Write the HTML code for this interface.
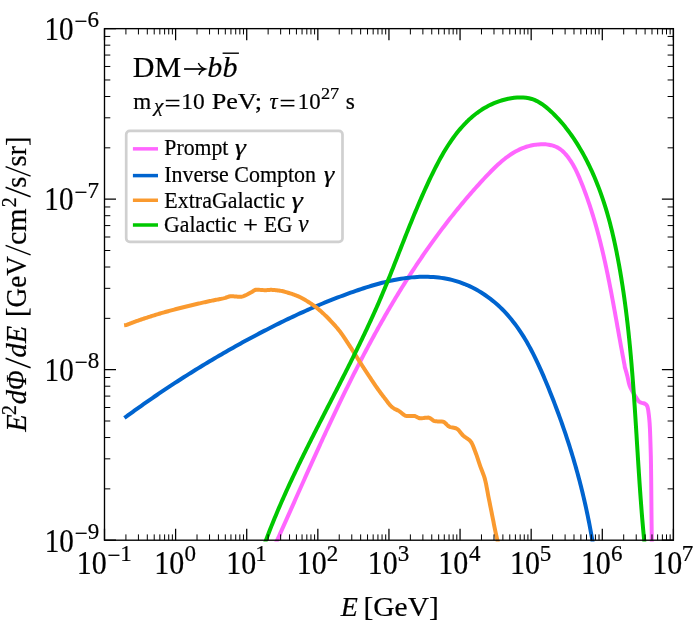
<!DOCTYPE html>
<html><head><meta charset="utf-8"><title>DM decay spectrum</title>
<style>html,body{margin:0;padding:0;background:#fff;}svg{display:block;will-change:transform;}text{font-family:"Liberation Serif", serif;fill:#000;stroke:#000;stroke-width:0.2px;}</style>
</head><body>
<svg width="695" height="625" viewBox="0 0 695 625">
<rect x="0" y="0" width="695" height="625" fill="#ffffff"/>
<defs><clipPath id="ax"><rect x="104.50" y="28.65" width="568.90" height="512.95"/></clipPath></defs>
<g clip-path="url(#ax)" fill="none" stroke-width="4.00" stroke-linejoin="round" stroke-linecap="square">
<path d="M275.10 544.94 L276.11 542.69 L277.12 540.44 L278.13 538.19 L279.13 535.94 L280.14 533.68 L281.15 531.43 L282.15 529.17 L283.16 526.92 L284.16 524.66 L285.17 522.40 L286.17 520.15 L287.18 517.89 L288.18 515.63 L289.19 513.37 L290.19 511.11 L291.20 508.85 L292.20 506.59 L293.21 504.33 L294.22 502.07 L295.22 499.81 L296.23 497.54 L297.24 495.28 L298.24 493.02 L299.25 490.76 L300.26 488.49 L301.27 486.23 L302.28 483.97 L303.29 481.71 L304.30 479.45 L305.32 477.18 L306.33 474.92 L307.34 472.66 L308.36 470.40 L309.38 468.14 L310.40 465.88 L311.41 463.61 L312.44 461.35 L313.46 459.10 L314.48 456.84 L315.51 454.58 L316.53 452.32 L317.56 450.06 L318.59 447.80 L319.62 445.55 L320.65 443.29 L321.69 441.04 L322.73 438.78 L323.76 436.53 L324.81 434.28 L325.85 432.03 L326.89 429.78 L327.94 427.53 L328.99 425.28 L330.04 423.03 L331.09 420.79 L332.15 418.54 L333.21 416.30 L334.27 414.06 L335.33 411.82 L336.40 409.58 L337.47 407.34 L338.54 405.10 L339.61 402.87 L340.69 400.63 L341.77 398.40 L342.85 396.17 L343.94 393.94 L345.03 391.71 L346.12 389.49 L347.21 387.26 L348.31 385.04 L349.41 382.82 L350.52 380.60 L351.63 378.39 L352.74 376.17 L353.85 373.96 L354.97 371.75 L356.09 369.54 L357.22 367.33 L358.35 365.13 L359.48 362.93 L360.62 360.73 L361.76 358.53 L362.91 356.34 L364.05 354.14 L365.21 351.95 L366.36 349.76 L367.53 347.58 L368.69 345.39 L369.86 343.21 L371.04 341.04 L372.21 338.86 L373.40 336.69 L374.58 334.52 L375.78 332.35 L376.97 330.19 L378.17 328.02 L379.38 325.87 L380.59 323.71 L381.81 321.56 L383.03 319.41 L384.25 317.26 L385.48 315.12 L386.72 312.98 L387.96 310.84 L389.20 308.70 L390.45 306.57 L391.71 304.44 L392.97 302.32 L394.24 300.20 L395.51 298.08 L396.79 295.97 L398.07 293.86 L399.36 291.75 L400.66 289.65 L401.96 287.55 L403.26 285.45 L404.58 283.36 L405.89 281.27 L407.22 279.18 L408.55 277.10 L409.88 275.02 L411.23 272.95 L412.57 270.88 L413.93 268.81 L415.29 266.75 L416.66 264.69 L418.03 262.64 L419.41 260.59 L420.80 258.54 L422.19 256.50 L423.59 254.47 L425.00 252.43 L426.41 250.40 L427.83 248.38 L429.26 246.36 L430.69 244.35 L432.13 242.33 L433.58 240.33 L435.03 238.33 L436.49 236.33 L437.96 234.34 L439.44 232.35 L440.92 230.37 L442.41 228.39 L443.91 226.42 L445.42 224.45 L446.93 222.48 L448.45 220.52 L449.98 218.57 L451.52 216.62 L453.06 214.68 L454.61 212.74 L456.17 210.81 L457.74 208.88 L459.32 206.95 L460.90 205.04 L462.49 203.12 L464.09 201.22 L465.70 199.32 L467.32 197.42 L468.94 195.53 L470.57 193.64 L472.21 191.76 L473.86 189.89 L475.52 188.02 L477.19 186.16 L478.86 184.30 L480.55 182.45 L482.24 180.60 L483.94 178.76 L485.65 176.93 L487.38 175.10 L489.11 173.29 L490.85 171.49 L492.61 169.72 L494.39 167.97 L496.18 166.24 L498.00 164.56 L499.83 162.90 L501.69 161.30 L503.57 159.73 L505.48 158.22 L507.42 156.76 L509.39 155.36 L511.39 154.02 L513.42 152.75 L515.49 151.55 L517.59 150.43 L519.73 149.38 L521.91 148.42 L524.13 147.54 L526.40 146.76 L528.70 146.08 L531.06 145.49 L533.46 145.01 L535.91 144.64 L538.42 144.38 L540.97 144.24 L543.55 144.23 L546.13 144.37 L548.69 144.68 L551.20 145.17 L553.64 145.85 L555.98 146.75 L558.19 147.87 L560.27 149.23 L562.21 150.79 L564.03 152.51 L565.74 154.36 L567.34 156.30 L568.85 158.29 L570.28 160.33 L571.63 162.42 L572.91 164.54 L574.12 166.70 L575.28 168.89 L576.38 171.11 L577.44 173.35 L578.45 175.61 L579.43 177.89 L580.39 180.18 L581.32 182.48 L582.24 184.78 L583.14 187.09 L584.03 189.40 L584.90 191.72 L585.76 194.04 L586.60 196.37 L587.42 198.70 L588.24 201.04 L589.03 203.38 L589.82 205.72 L590.59 208.07 L591.35 210.43 L592.09 212.78 L592.82 215.14 L593.54 217.51 L594.25 219.88 L594.95 222.25 L595.63 224.63 L596.30 227.00 L596.97 229.39 L597.62 231.77 L598.26 234.16 L598.89 236.55 L599.51 238.95 L600.12 241.35 L600.72 243.75 L601.31 246.15 L601.89 248.55 L602.47 250.96 L603.03 253.37 L603.59 255.79 L604.14 258.20 L604.68 260.62 L605.22 263.04 L605.74 265.46 L606.26 267.88 L606.78 270.30 L607.29 272.73 L607.79 275.16 L608.28 277.59 L608.77 280.02 L609.26 282.45 L609.74 284.88 L610.22 287.32 L610.69 289.75 L611.16 292.19 L611.62 294.62 L612.08 297.06 L612.54 299.50 L612.99 301.94 L613.44 304.38 L613.89 306.82 L614.33 309.25 L614.78 311.69 L615.22 314.13 L615.66 316.57 L616.10 319.01 L616.54 321.45 L616.98 323.89 L617.41 326.33 L617.85 328.77 L618.29 331.20 L618.73 333.64 L619.17 336.08 L619.60 338.51 L620.05 340.94 L620.49 343.38 L620.93 345.81 L621.38 348.24 L621.83 350.67 L622.28 353.09 L622.73 355.52 L623.19 357.94 L623.65 360.37 L624.11 362.79 L624.58 365.21 L624.76 366.81 L625.21 368.33 L625.65 369.85 L626.08 371.37 L626.51 372.90 L626.92 374.43 L627.32 375.96 L627.68 377.50 L628.01 379.06 L628.34 380.62 L628.68 382.17 L629.06 383.70 L629.50 385.20 L630.04 386.67 L630.69 388.10 L631.42 389.52 L632.19 390.92 L632.98 392.30 L633.75 393.68 L634.56 395.05 L635.39 396.40 L636.26 397.72 L637.16 399.03 L638.09 400.42 L639.11 401.64 L640.32 402.40 L641.87 402.87 L643.54 403.25 L645.03 403.74 L646.20 404.62 L647.15 406.00 L647.65 407.44 L648.00 408.96 L648.26 410.55 L648.48 412.16 L648.68 413.74 L648.87 415.31 L649.05 416.88 L649.21 418.45 L649.36 420.03 L649.49 421.61 L649.62 423.19 L649.72 424.77 L649.81 426.35 L649.90 427.93 L649.97 429.51 L650.04 431.09 L650.10 432.67 L650.16 434.25 L650.22 435.83 L650.27 437.41 L650.32 438.99 L650.37 440.58 L650.42 442.16 L650.47 443.74 L650.52 445.32 L650.56 446.90 L650.61 448.49 L650.66 450.07 L650.70 451.65 L650.75 453.23 L650.79 454.81 L650.83 456.40 L650.86 457.98 L650.89 459.56 L650.92 461.14 L650.95 462.72 L650.97 464.31 L650.99 465.89 L651.02 467.47 L651.04 469.05 L651.06 470.63 L651.08 472.22 L651.10 473.80 L651.12 475.38 L651.14 476.96 L651.16 478.54 L651.18 480.13 L651.19 481.71 L651.21 483.29 L651.23 484.87 L651.24 486.46 L651.26 488.04 L651.27 489.62 L651.29 491.20 L651.30 492.79 L651.31 494.37 L651.33 495.95 L651.34 497.53 L651.35 499.11 L651.37 500.70 L651.38 502.28 L651.40 503.86 L651.41 505.44 L651.42 507.03 L651.44 508.61 L651.45 510.19 L651.46 511.77 L651.48 513.36 L651.49 514.94 L651.51 516.52 L651.52 518.10 L651.54 519.69 L651.56 521.27 L651.57 522.85 L651.59 524.43 L651.61 526.01 L651.63 527.60 L651.65 529.18 L651.66 530.76 L651.69 532.34 L651.71 533.93 L651.73 535.51 L651.75 537.09 L651.78 538.67 L651.80 540.25 L651.83 541.84 L651.86 543.42 L651.90 545.00" stroke="#ff66ff"/>
<path d="M126.02 416.79 L128.18 415.20 L130.36 413.62 L132.54 412.05 L134.72 410.47 L136.91 408.91 L139.11 407.34 L141.31 405.78 L143.52 404.23 L145.73 402.68 L147.95 401.13 L150.17 399.59 L152.40 398.05 L154.64 396.52 L156.88 394.99 L159.12 393.47 L161.37 391.95 L163.62 390.44 L165.88 388.93 L168.15 387.43 L170.42 385.93 L172.69 384.44 L174.97 382.95 L177.25 381.47 L179.54 379.99 L181.83 378.52 L184.12 377.06 L186.42 375.60 L188.73 374.14 L191.03 372.69 L193.34 371.25 L195.66 369.81 L197.98 368.38 L200.30 366.95 L202.63 365.53 L204.96 364.12 L207.29 362.71 L209.63 361.31 L211.97 359.92 L214.32 358.53 L216.66 357.14 L219.01 355.77 L221.37 354.40 L223.72 353.03 L226.08 351.68 L228.44 350.33 L230.81 348.98 L233.18 347.64 L235.55 346.31 L237.92 344.99 L240.30 343.67 L242.67 342.36 L245.05 341.06 L247.44 339.77 L249.82 338.48 L252.21 337.20 L254.60 335.92 L256.99 334.65 L259.38 333.39 L261.77 332.14 L264.17 330.90 L266.57 329.66 L268.97 328.43 L271.37 327.21 L273.77 326.00 L276.18 324.79 L278.59 323.59 L281.00 322.40 L283.42 321.22 L285.84 320.05 L288.26 318.88 L290.69 317.72 L293.12 316.58 L295.56 315.44 L298.00 314.31 L300.44 313.18 L302.89 312.07 L305.34 310.97 L307.80 309.87 L310.27 308.78 L312.74 307.71 L315.21 306.64 L317.70 305.58 L320.18 304.53 L322.68 303.49 L325.18 302.47 L327.69 301.45 L330.21 300.44 L332.73 299.44 L335.26 298.45 L337.80 297.47 L340.35 296.50 L342.90 295.54 L345.46 294.59 L348.04 293.65 L350.62 292.73 L353.21 291.81 L355.80 290.90 L358.41 290.01 L361.03 289.13 L363.65 288.26 L366.28 287.42 L368.92 286.59 L371.57 285.78 L374.22 285.00 L376.88 284.24 L379.54 283.50 L382.21 282.80 L384.89 282.12 L387.56 281.48 L390.25 280.87 L392.93 280.29 L395.62 279.75 L398.31 279.25 L401.00 278.79 L403.70 278.37 L406.39 277.99 L409.09 277.66 L411.79 277.38 L414.48 277.15 L417.18 276.96 L419.87 276.83 L422.57 276.76 L425.26 276.74 L427.95 276.78 L430.64 276.88 L433.32 277.03 L436.00 277.25 L438.67 277.53 L441.32 277.88 L443.97 278.29 L446.60 278.76 L449.22 279.31 L451.82 279.92 L454.41 280.60 L456.97 281.34 L459.51 282.16 L462.03 283.05 L464.53 284.01 L467.00 285.04 L469.44 286.13 L471.86 287.29 L474.25 288.50 L476.61 289.78 L478.94 291.12 L481.23 292.52 L483.50 293.97 L485.73 295.48 L487.93 297.04 L490.09 298.65 L492.21 300.31 L494.30 302.02 L496.35 303.77 L498.36 305.57 L500.32 307.41 L502.25 309.30 L504.13 311.22 L505.97 313.18 L507.77 315.18 L509.53 317.21 L511.25 319.28 L512.93 321.38 L514.58 323.51 L516.19 325.68 L517.77 327.87 L519.31 330.10 L520.82 332.35 L522.30 334.62 L523.74 336.93 L525.16 339.25 L526.55 341.60 L527.91 343.97 L529.24 346.36 L530.55 348.77 L531.84 351.19 L533.10 353.64 L534.33 356.09 L535.55 358.56 L536.74 361.05 L537.92 363.54 L539.08 366.05 L540.21 368.57 L541.34 371.09 L542.44 373.62 L543.53 376.16 L544.61 378.70 L545.68 381.24 L546.73 383.78 L547.78 386.33 L548.81 388.87 L549.83 391.42 L550.85 393.96 L551.85 396.50 L552.85 399.05 L553.83 401.59 L554.81 404.13 L555.78 406.68 L556.73 409.22 L557.68 411.77 L558.62 414.31 L559.55 416.86 L560.47 419.40 L561.38 421.95 L562.28 424.50 L563.16 427.05 L564.04 429.60 L564.92 432.15 L565.78 434.71 L566.63 437.26 L567.47 439.82 L568.30 442.38 L569.12 444.94 L569.93 447.51 L570.74 450.08 L571.53 452.65 L572.31 455.22 L573.09 457.79 L573.85 460.37 L574.60 462.95 L575.35 465.54 L576.08 468.12 L576.81 470.71 L577.52 473.31 L578.23 475.90 L578.92 478.51 L579.61 481.11 L580.29 483.72 L580.95 486.34 L581.61 488.95 L582.25 491.58 L582.89 494.20 L583.52 496.84 L584.14 499.47 L584.74 502.11 L585.34 504.76 L585.93 507.41 L586.51 510.07 L587.07 512.73 L587.63 515.40 L588.18 518.07 L588.72 520.75 L589.25 523.44 L589.77 526.13 L590.28 528.83 L590.77 531.53 L591.26 534.24 L591.74 536.96 L592.21 539.69 L592.67 542.42 L593.12 545.16" stroke="#0064cf"/>
<path d="M126.10 324.98 L126.50 324.93 L127.48 324.55 L128.45 324.17 L129.43 323.79 L130.41 323.41 L131.38 323.04 L132.36 322.67 L133.34 322.31 L134.33 321.94 L135.31 321.59 L136.29 321.23 L137.28 320.88 L138.26 320.53 L139.25 320.19 L140.24 319.85 L141.23 319.51 L142.22 319.18 L143.21 318.84 L144.20 318.51 L145.20 318.18 L146.19 317.85 L147.19 317.53 L148.18 317.20 L149.18 316.88 L150.18 316.56 L151.17 316.25 L152.17 315.93 L153.17 315.62 L154.17 315.31 L155.17 315.00 L156.17 314.69 L157.17 314.39 L158.18 314.09 L159.18 313.79 L160.18 313.49 L161.19 313.20 L162.19 312.91 L163.20 312.62 L164.20 312.33 L165.21 312.04 L166.21 311.76 L167.22 311.48 L168.23 311.20 L169.24 310.92 L170.25 310.65 L171.26 310.38 L172.27 310.11 L173.28 309.84 L174.29 309.57 L175.31 309.30 L176.32 309.04 L177.33 308.78 L178.35 308.52 L179.36 308.26 L180.37 308.00 L181.39 307.74 L182.40 307.49 L183.42 307.23 L184.44 306.98 L185.45 306.73 L186.47 306.48 L187.48 306.23 L188.50 305.98 L189.52 305.74 L190.53 305.49 L191.55 305.24 L192.57 305.00 L193.59 304.76 L194.60 304.52 L195.62 304.28 L196.64 304.04 L197.66 303.80 L198.68 303.56 L199.70 303.33 L200.72 303.10 L201.74 302.86 L202.76 302.63 L203.78 302.41 L204.80 302.18 L205.83 301.95 L206.85 301.73 L207.87 301.51 L208.89 301.29 L209.92 301.07 L210.94 300.85 L211.96 300.64 L212.99 300.43 L214.02 300.23 L215.05 300.03 L216.08 299.84 L217.10 299.65 L218.13 299.45 L219.16 299.26 L220.19 299.06 L221.21 298.85 L222.24 298.63 L223.26 298.41 L224.27 298.16 L225.29 297.84 L226.29 297.49 L227.30 297.13 L228.30 296.80 L229.31 296.52 L230.33 296.33 L231.35 296.25 L232.38 296.27 L233.43 296.32 L234.48 296.39 L235.53 296.47 L236.59 296.56 L237.64 296.64 L238.69 296.71 L239.73 296.76 L240.75 296.79 L241.77 296.70 L242.78 296.41 L243.77 296.02 L244.76 295.59 L245.72 295.19 L246.67 294.76 L247.60 294.29 L248.52 293.79 L249.44 293.27 L250.36 292.77 L251.29 292.28 L252.21 291.73 L253.13 291.11 L254.05 290.51 L254.98 290.01 L255.94 289.73 L256.92 289.69 L257.93 289.73 L258.96 289.79 L260.01 289.87 L261.07 289.96 L262.13 290.04 L263.20 290.11 L264.26 290.15 L265.31 290.16 L266.35 290.13 L267.40 290.06 L268.44 289.98 L269.49 289.91 L270.53 289.86 L271.57 289.85 L272.62 289.89 L273.66 289.95 L274.71 290.04 L275.76 290.15 L276.80 290.28 L277.84 290.42 L278.88 290.57 L279.91 290.72 L280.94 290.88 L281.96 291.06 L282.98 291.29 L284.00 291.54 L285.01 291.81 L286.02 292.10 L287.03 292.41 L288.03 292.71 L289.03 293.02 L290.03 293.33 L291.03 293.64 L292.03 293.97 L293.02 294.31 L294.01 294.66 L295.00 295.02 L295.97 295.39 L296.94 295.78 L297.90 296.19 L298.85 296.61 L299.80 297.06 L300.73 297.52 L301.66 298.01 L302.59 298.51 L303.50 299.02 L304.41 299.54 L305.32 300.07 L306.22 300.60 L307.12 301.14 L308.01 301.68 L308.90 302.24 L309.78 302.81 L310.66 303.38 L311.53 303.97 L312.39 304.56 L313.25 305.17 L314.10 305.78 L314.93 306.40 L315.76 307.03 L316.58 307.67 L317.40 308.33 L318.20 309.00 L319.00 309.68 L319.79 310.36 L320.58 311.06 L321.36 311.76 L322.14 312.46 L322.91 313.17 L323.68 313.88 L324.44 314.60 L325.19 315.32 L325.95 316.04 L326.70 316.78 L327.44 317.52 L328.18 318.26 L328.91 319.01 L329.64 319.76 L330.36 320.52 L331.08 321.28 L331.79 322.04 L332.50 322.81 L333.21 323.58 L333.91 324.36 L334.61 325.14 L335.31 325.93 L336.00 326.71 L336.68 327.51 L337.36 328.31 L338.03 329.12 L338.69 329.93 L339.34 330.74 L339.98 331.57 L340.60 332.40 L341.22 333.24 L341.84 334.08 L342.44 334.94 L343.04 335.80 L343.63 336.66 L344.22 337.53 L344.80 338.40 L345.38 339.27 L345.95 340.15 L346.53 341.03 L347.10 341.91 L347.67 342.78 L348.25 343.66 L348.82 344.53 L349.39 345.41 L349.96 346.29 L350.52 347.17 L351.08 348.05 L351.64 348.94 L352.20 349.82 L352.76 350.71 L353.31 351.59 L353.87 352.48 L354.43 353.37 L354.99 354.25 L355.54 355.14 L356.10 356.02 L356.66 356.91 L357.22 357.79 L357.78 358.67 L358.34 359.56 L358.90 360.44 L359.46 361.33 L360.02 362.21 L360.59 363.09 L361.15 363.97 L361.71 364.86 L362.28 365.73 L362.85 366.61 L363.42 367.49 L363.99 368.37 L364.56 369.25 L365.13 370.12 L365.70 371.00 L366.28 371.87 L366.85 372.75 L367.43 373.62 L368.00 374.50 L368.58 375.37 L369.16 376.24 L369.74 377.11 L370.32 377.98 L370.90 378.85 L371.47 379.73 L372.05 380.60 L372.63 381.47 L373.22 382.34 L373.80 383.21 L374.39 384.08 L374.97 384.94 L375.56 385.81 L376.16 386.67 L376.76 387.52 L377.36 388.38 L377.97 389.23 L378.58 390.08 L379.19 390.93 L379.81 391.77 L380.43 392.62 L381.05 393.46 L381.68 394.30 L382.31 395.13 L382.94 395.96 L383.58 396.79 L384.23 397.62 L384.87 398.44 L385.52 399.27 L386.16 400.11 L386.79 400.97 L387.43 401.84 L388.07 402.69 L388.72 403.54 L389.38 404.36 L390.06 405.15 L390.77 405.90 L391.50 406.60 L392.27 407.25 L393.08 407.84 L393.95 408.39 L394.86 408.90 L395.80 409.39 L396.75 409.88 L397.71 410.36 L398.64 410.86 L399.55 411.39 L400.43 412.02 L401.29 412.73 L402.15 413.48 L403.01 414.21 L403.87 414.87 L404.75 415.41 L405.66 415.77 L406.60 415.90 L407.59 415.90 L408.62 415.90 L409.68 415.90 L410.76 415.90 L411.83 415.90 L412.89 415.90 L413.92 415.90 L414.92 416.08 L415.90 416.48 L416.87 417.00 L417.84 417.53 L418.81 417.99 L419.80 418.26 L420.81 418.29 L421.85 418.23 L422.90 418.12 L423.97 417.99 L425.03 417.85 L426.08 417.73 L427.12 417.64 L428.12 417.60 L429.09 417.74 L430.02 418.14 L430.94 418.73 L431.84 419.41 L432.75 420.10 L433.67 420.70 L434.61 421.13 L435.58 421.31 L436.61 421.37 L437.67 421.41 L438.76 421.44 L439.85 421.47 L440.91 421.50 L441.92 421.55 L442.87 421.64 L443.76 421.95 L444.60 422.50 L445.41 423.22 L446.21 424.03 L447.01 424.87 L447.82 425.66 L448.66 426.34 L449.54 426.84 L450.50 427.15 L451.54 427.38 L452.61 427.58 L453.69 427.76 L454.74 427.97 L455.71 428.23 L456.58 428.57 L457.39 429.08 L458.15 429.72 L458.87 430.46 L459.57 431.28 L460.25 432.15 L460.94 433.04 L461.63 433.91 L462.34 434.74 L463.09 435.50 L463.89 436.18 L464.74 436.82 L465.64 437.44 L466.55 438.05 L467.45 438.65 L468.32 439.27 L469.15 439.91 L469.90 440.58 L470.57 441.30 L471.13 442.08 L471.65 442.92 L472.13 443.82 L472.57 444.76 L472.99 445.74 L473.39 446.74 L473.78 447.75 L474.16 448.77 L474.53 449.78 L474.91 450.77 L475.29 451.74 L475.66 452.72 L476.02 453.70 L476.37 454.68 L476.72 455.67 L477.06 456.66 L477.39 457.65 L477.73 458.64 L478.06 459.64 L478.38 460.63 L478.71 461.63 L479.04 462.62 L479.38 463.62 L479.71 464.61 L480.05 465.60 L480.40 466.59 L480.76 467.57 L481.13 468.55 L481.51 469.53 L481.89 470.51 L482.28 471.49 L482.66 472.47 L483.03 473.45 L483.40 474.43 L483.75 475.41 L484.09 476.40 L484.41 477.39 L484.71 478.39 L484.98 479.39 L485.23 480.40 L485.47 481.41 L485.71 482.43 L485.93 483.45 L486.14 484.47 L486.35 485.49 L486.55 486.52 L486.75 487.55 L486.94 488.58 L487.13 489.62 L487.32 490.65 L487.51 491.68 L487.69 492.71 L487.88 493.75 L488.07 494.78 L488.27 495.81 L488.47 496.84 L488.67 497.86 L488.88 498.89 L489.09 499.91 L489.29 500.94 L489.50 501.97 L489.70 502.99 L489.91 504.02 L490.12 505.04 L490.32 506.07 L490.53 507.10 L490.74 508.12 L490.94 509.15 L491.15 510.17 L491.35 511.20 L491.56 512.22 L491.77 513.25 L491.97 514.28 L492.18 515.30 L492.39 516.33 L492.59 517.35 L492.79 518.38 L492.99 519.41 L493.20 520.44 L493.40 521.46 L493.60 522.49 L493.80 523.52 L494.00 524.54 L494.20 525.57 L494.40 526.60 L494.60 527.62 L494.81 528.65 L495.02 529.68 L495.23 530.70 L495.44 531.72 L495.66 532.75 L495.88 533.77 L496.11 534.79 L496.35 535.81 L496.60 536.83 L496.84 537.84 L497.09 538.86 L497.33 539.88 L497.55 540.90 L497.77 541.92 L497.99 542.95 L498.20 543.97 L498.40 545.00" stroke="#fa9a2f"/>
<path d="M264.22 545.04 L265.21 542.33 L266.21 539.63 L267.23 536.92 L268.25 534.23 L269.29 531.53 L270.35 528.83 L271.41 526.14 L272.49 523.46 L273.58 520.77 L274.68 518.09 L275.79 515.41 L276.91 512.73 L278.04 510.06 L279.18 507.39 L280.34 504.72 L281.50 502.06 L282.67 499.39 L283.85 496.73 L285.04 494.07 L286.24 491.42 L287.44 488.76 L288.66 486.11 L289.88 483.46 L291.11 480.81 L292.35 478.17 L293.60 475.52 L294.85 472.88 L296.11 470.24 L297.37 467.60 L298.64 464.96 L299.92 462.33 L301.20 459.69 L302.49 457.06 L303.79 454.43 L305.08 451.80 L306.39 449.17 L307.69 446.55 L309.01 443.92 L310.32 441.30 L311.64 438.68 L312.96 436.05 L314.29 433.43 L315.61 430.81 L316.94 428.19 L318.28 425.58 L319.61 422.96 L320.95 420.34 L322.29 417.73 L323.63 415.11 L324.97 412.50 L326.31 409.88 L327.65 407.27 L328.99 404.65 L330.33 402.04 L331.67 399.43 L333.02 396.82 L334.36 394.20 L335.70 391.59 L337.03 388.98 L338.37 386.37 L339.70 383.75 L341.04 381.14 L342.37 378.53 L343.69 375.92 L345.02 373.30 L346.34 370.69 L347.66 368.08 L348.97 365.46 L350.29 362.85 L351.59 360.23 L352.90 357.62 L354.19 355.00 L355.49 352.38 L356.77 349.76 L358.06 347.14 L359.33 344.53 L360.60 341.90 L361.87 339.28 L363.13 336.66 L364.38 334.04 L365.62 331.41 L366.86 328.78 L368.09 326.16 L369.31 323.53 L370.53 320.90 L371.73 318.26 L372.93 315.63 L374.12 312.99 L375.30 310.36 L376.47 307.72 L377.63 305.08 L378.78 302.44 L379.92 299.79 L381.06 297.15 L382.18 294.50 L383.29 291.85 L384.39 289.20 L385.49 286.54 L386.58 283.89 L387.66 281.23 L388.74 278.57 L389.81 275.91 L390.88 273.25 L391.94 270.58 L393.00 267.92 L394.05 265.25 L395.10 262.58 L396.15 259.91 L397.20 257.24 L398.25 254.57 L399.30 251.89 L400.35 249.22 L401.40 246.54 L402.45 243.86 L403.51 241.18 L404.57 238.50 L405.63 235.81 L406.69 233.13 L407.76 230.44 L408.84 227.76 L409.92 225.07 L411.00 222.38 L412.10 219.69 L413.20 217.00 L414.31 214.30 L415.43 211.61 L416.56 208.92 L417.70 206.22 L418.85 203.52 L420.01 200.82 L421.18 198.13 L422.37 195.43 L423.57 192.72 L424.78 190.02 L426.00 187.32 L427.25 184.62 L428.50 181.91 L429.77 179.21 L431.06 176.50 L432.37 173.80 L433.70 171.11 L435.05 168.42 L436.42 165.74 L437.81 163.08 L439.23 160.43 L440.67 157.80 L442.14 155.19 L443.64 152.60 L445.17 150.04 L446.73 147.51 L448.32 145.01 L449.95 142.54 L451.61 140.11 L453.31 137.72 L455.04 135.37 L456.81 133.07 L458.63 130.81 L460.48 128.60 L462.38 126.45 L464.32 124.35 L466.30 122.30 L468.33 120.32 L470.41 118.39 L472.54 116.54 L474.72 114.75 L476.94 113.03 L479.23 111.38 L481.56 109.81 L483.95 108.32 L486.40 106.90 L488.90 105.57 L491.47 104.33 L494.09 103.17 L496.78 102.11 L499.53 101.14 L502.34 100.26 L505.22 99.49 L508.16 98.81 L511.15 98.25 L514.18 97.82 L517.21 97.55 L520.22 97.43 L523.21 97.50 L526.14 97.77 L528.99 98.26 L531.74 98.98 L534.39 99.93 L536.94 101.10 L539.41 102.45 L541.79 103.96 L544.09 105.62 L546.34 107.39 L548.53 109.25 L550.67 111.18 L552.77 113.17 L554.84 115.21 L556.86 117.29 L558.84 119.42 L560.79 121.60 L562.69 123.82 L564.56 126.08 L566.39 128.38 L568.18 130.71 L569.93 133.09 L571.65 135.49 L573.33 137.92 L574.97 140.38 L576.58 142.87 L578.15 145.39 L579.68 147.92 L581.18 150.48 L582.64 153.05 L584.07 155.65 L585.47 158.25 L586.83 160.87 L588.15 163.50 L589.45 166.14 L590.71 168.79 L591.94 171.45 L593.14 174.12 L594.31 176.80 L595.44 179.49 L596.55 182.18 L597.63 184.89 L598.69 187.61 L599.71 190.33 L600.71 193.07 L601.68 195.81 L602.62 198.56 L603.55 201.31 L604.44 204.07 L605.32 206.85 L606.16 209.62 L606.99 212.41 L607.80 215.20 L608.58 217.99 L609.34 220.79 L610.09 223.60 L610.81 226.42 L611.52 229.23 L612.20 232.06 L612.87 234.88 L613.53 237.72 L614.16 240.55 L614.78 243.39 L615.39 246.23 L615.98 249.08 L616.56 251.93 L617.12 254.78 L617.68 257.64 L618.21 260.50 L618.74 263.36 L619.26 266.22 L619.77 269.08 L620.26 271.95 L620.75 274.82 L621.22 277.69 L621.69 280.56 L622.14 283.44 L622.59 286.31 L623.02 289.19 L623.45 292.07 L623.87 294.95 L624.27 297.83 L624.67 300.72 L625.06 303.60 L625.44 306.49 L625.82 309.38 L626.18 312.27 L626.54 315.16 L626.89 318.05 L627.23 320.95 L627.56 323.84 L627.89 326.74 L628.21 329.64 L628.52 332.54 L628.83 335.44 L629.13 338.34 L629.42 341.25 L629.70 344.15 L629.99 347.06 L630.26 349.96 L630.53 352.87 L630.79 355.78 L631.05 358.69 L631.30 361.59 L631.55 364.51 L631.79 367.42 L632.03 370.33 L632.27 373.24 L632.50 376.15 L632.72 379.07 L632.94 381.98 L633.16 384.90 L633.38 387.81 L633.59 390.73 L633.79 393.64 L634.00 396.56 L634.20 399.48 L634.40 402.39 L634.60 405.31 L634.79 408.23 L634.98 411.15 L635.18 414.07 L635.36 416.98 L635.55 419.90 L635.74 422.82 L635.92 425.74 L636.11 428.66 L636.29 431.57 L636.47 434.49 L636.65 437.41 L636.83 440.33 L637.01 443.24 L637.19 446.16 L637.38 449.08 L637.56 451.99 L637.74 454.91 L637.92 457.82 L638.11 460.74 L638.29 463.65 L638.48 466.57 L638.67 469.48 L638.85 472.39 L639.05 475.30 L639.24 478.21 L639.43 481.12 L639.63 484.03 L639.83 486.94 L640.04 489.85 L640.24 492.76 L640.45 495.66 L640.66 498.57 L640.88 501.47 L641.10 504.37 L641.32 507.27 L641.55 510.18 L641.78 513.07 L642.01 515.97 L642.25 518.87 L642.50 521.76 L642.75 524.66 L643.00 527.55 L643.26 530.44 L643.53 533.33 L643.80 536.22 L644.07 539.11 L644.36 541.99 L644.65 544.88" stroke="#00c800"/>
</g>
<path d="M104.50 540.20 v-11.50 M104.50 28.65 v11.50 M175.61 540.20 v-11.50 M175.61 28.65 v11.50 M246.72 540.20 v-11.50 M246.72 28.65 v11.50 M317.84 540.20 v-11.50 M317.84 28.65 v11.50 M388.95 540.20 v-11.50 M388.95 28.65 v11.50 M460.06 540.20 v-11.50 M460.06 28.65 v11.50 M531.17 540.20 v-11.50 M531.17 28.65 v11.50 M602.29 540.20 v-11.50 M602.29 28.65 v11.50 M673.40 540.20 v-11.50 M673.40 28.65 v11.50 M104.50 540.20 h11.50 M673.40 540.20 h-11.50 M104.50 369.68 h11.50 M673.40 369.68 h-11.50 M104.50 199.17 h11.50 M673.40 199.17 h-11.50 M104.50 28.65 h11.50 M673.40 28.65 h-11.50" stroke="#000" stroke-width="1.25" fill="none"/>
<path d="M125.91 540.20 v-5.80 M125.91 28.65 v5.80 M138.43 540.20 v-5.80 M138.43 28.65 v5.80 M147.31 540.20 v-5.80 M147.31 28.65 v5.80 M154.21 540.20 v-5.80 M154.21 28.65 v5.80 M159.84 540.20 v-5.80 M159.84 28.65 v5.80 M164.60 540.20 v-5.80 M164.60 28.65 v5.80 M168.72 540.20 v-5.80 M168.72 28.65 v5.80 M172.36 540.20 v-5.80 M172.36 28.65 v5.80 M197.02 540.20 v-5.80 M197.02 28.65 v5.80 M209.54 540.20 v-5.80 M209.54 28.65 v5.80 M218.43 540.20 v-5.80 M218.43 28.65 v5.80 M225.32 540.20 v-5.80 M225.32 28.65 v5.80 M230.95 540.20 v-5.80 M230.95 28.65 v5.80 M235.71 540.20 v-5.80 M235.71 28.65 v5.80 M239.83 540.20 v-5.80 M239.83 28.65 v5.80 M243.47 540.20 v-5.80 M243.47 28.65 v5.80 M268.13 540.20 v-5.80 M268.13 28.65 v5.80 M280.65 540.20 v-5.80 M280.65 28.65 v5.80 M289.54 540.20 v-5.80 M289.54 28.65 v5.80 M296.43 540.20 v-5.80 M296.43 28.65 v5.80 M302.06 540.20 v-5.80 M302.06 28.65 v5.80 M306.82 540.20 v-5.80 M306.82 28.65 v5.80 M310.95 540.20 v-5.80 M310.95 28.65 v5.80 M314.58 540.20 v-5.80 M314.58 28.65 v5.80 M339.24 540.20 v-5.80 M339.24 28.65 v5.80 M351.77 540.20 v-5.80 M351.77 28.65 v5.80 M360.65 540.20 v-5.80 M360.65 28.65 v5.80 M367.54 540.20 v-5.80 M367.54 28.65 v5.80 M373.17 540.20 v-5.80 M373.17 28.65 v5.80 M377.93 540.20 v-5.80 M377.93 28.65 v5.80 M382.06 540.20 v-5.80 M382.06 28.65 v5.80 M385.70 540.20 v-5.80 M385.70 28.65 v5.80 M410.36 540.20 v-5.80 M410.36 28.65 v5.80 M422.88 540.20 v-5.80 M422.88 28.65 v5.80 M431.76 540.20 v-5.80 M431.76 28.65 v5.80 M438.66 540.20 v-5.80 M438.66 28.65 v5.80 M444.29 540.20 v-5.80 M444.29 28.65 v5.80 M449.05 540.20 v-5.80 M449.05 28.65 v5.80 M453.17 540.20 v-5.80 M453.17 28.65 v5.80 M456.81 540.20 v-5.80 M456.81 28.65 v5.80 M481.47 540.20 v-5.80 M481.47 28.65 v5.80 M493.99 540.20 v-5.80 M493.99 28.65 v5.80 M502.88 540.20 v-5.80 M502.88 28.65 v5.80 M509.77 540.20 v-5.80 M509.77 28.65 v5.80 M515.40 540.20 v-5.80 M515.40 28.65 v5.80 M520.16 540.20 v-5.80 M520.16 28.65 v5.80 M524.28 540.20 v-5.80 M524.28 28.65 v5.80 M527.92 540.20 v-5.80 M527.92 28.65 v5.80 M552.58 540.20 v-5.80 M552.58 28.65 v5.80 M565.10 540.20 v-5.80 M565.10 28.65 v5.80 M573.99 540.20 v-5.80 M573.99 28.65 v5.80 M580.88 540.20 v-5.80 M580.88 28.65 v5.80 M586.51 540.20 v-5.80 M586.51 28.65 v5.80 M591.27 540.20 v-5.80 M591.27 28.65 v5.80 M595.40 540.20 v-5.80 M595.40 28.65 v5.80 M599.03 540.20 v-5.80 M599.03 28.65 v5.80 M623.69 540.20 v-5.80 M623.69 28.65 v5.80 M636.22 540.20 v-5.80 M636.22 28.65 v5.80 M645.10 540.20 v-5.80 M645.10 28.65 v5.80 M651.99 540.20 v-5.80 M651.99 28.65 v5.80 M657.62 540.20 v-5.80 M657.62 28.65 v5.80 M662.38 540.20 v-5.80 M662.38 28.65 v5.80 M666.51 540.20 v-5.80 M666.51 28.65 v5.80 M670.15 540.20 v-5.80 M670.15 28.65 v5.80 M104.50 488.87 h5.80 M673.40 488.87 h-5.80 M104.50 458.84 h5.80 M673.40 458.84 h-5.80 M104.50 437.54 h5.80 M673.40 437.54 h-5.80 M104.50 421.01 h5.80 M673.40 421.01 h-5.80 M104.50 407.51 h5.80 M673.40 407.51 h-5.80 M104.50 396.10 h5.80 M673.40 396.10 h-5.80 M104.50 386.21 h5.80 M673.40 386.21 h-5.80 M104.50 377.49 h5.80 M673.40 377.49 h-5.80 M104.50 318.35 h5.80 M673.40 318.35 h-5.80 M104.50 288.33 h5.80 M673.40 288.33 h-5.80 M104.50 267.02 h5.80 M673.40 267.02 h-5.80 M104.50 250.50 h5.80 M673.40 250.50 h-5.80 M104.50 237.00 h5.80 M673.40 237.00 h-5.80 M104.50 225.58 h5.80 M673.40 225.58 h-5.80 M104.50 215.69 h5.80 M673.40 215.69 h-5.80 M104.50 206.97 h5.80 M673.40 206.97 h-5.80 M104.50 147.84 h5.80 M673.40 147.84 h-5.80 M104.50 117.81 h5.80 M673.40 117.81 h-5.80 M104.50 96.51 h5.80 M673.40 96.51 h-5.80 M104.50 79.98 h5.80 M673.40 79.98 h-5.80 M104.50 66.48 h5.80 M673.40 66.48 h-5.80 M104.50 55.06 h5.80 M673.40 55.06 h-5.80 M104.50 45.17 h5.80 M673.40 45.17 h-5.80 M104.50 36.45 h5.80 M673.40 36.45 h-5.80" stroke="#000" stroke-width="1.00" fill="none"/>
<rect x="104.50" y="28.65" width="568.90" height="511.55" fill="none" stroke="#000" stroke-width="1.35"/>
<text x="76.69" y="573.60" font-size="33.00" textLength="29.98" lengthAdjust="spacingAndGlyphs" xml:space="preserve">10</text>
<text x="107.38" y="563.30" font-size="23.00" xml:space="preserve">−</text>
<text x="120.35" y="561.30" font-size="23.00" xml:space="preserve">1</text>
<text x="154.25" y="573.60" font-size="33.00" textLength="29.98" lengthAdjust="spacingAndGlyphs" xml:space="preserve">10</text>
<text x="184.51" y="561.30" font-size="23.00" xml:space="preserve">0</text>
<text x="226.19" y="573.60" font-size="33.00" textLength="29.98" lengthAdjust="spacingAndGlyphs" xml:space="preserve">10</text>
<text x="255.30" y="561.30" font-size="23.00" xml:space="preserve">1</text>
<text x="296.74" y="573.60" font-size="33.00" textLength="29.98" lengthAdjust="spacingAndGlyphs" xml:space="preserve">10</text>
<text x="326.87" y="561.30" font-size="23.00" xml:space="preserve">2</text>
<text x="367.71" y="573.60" font-size="33.00" textLength="29.98" lengthAdjust="spacingAndGlyphs" xml:space="preserve">10</text>
<text x="397.75" y="561.30" font-size="23.00" xml:space="preserve">3</text>
<text x="438.23" y="573.60" font-size="33.00" textLength="29.98" lengthAdjust="spacingAndGlyphs" xml:space="preserve">10</text>
<text x="468.92" y="561.30" font-size="23.00" xml:space="preserve">4</text>
<text x="510.06" y="573.60" font-size="33.00" textLength="29.98" lengthAdjust="spacingAndGlyphs" xml:space="preserve">10</text>
<text x="539.86" y="561.30" font-size="23.00" xml:space="preserve">5</text>
<text x="580.89" y="573.60" font-size="33.00" textLength="29.98" lengthAdjust="spacingAndGlyphs" xml:space="preserve">10</text>
<text x="611.04" y="561.30" font-size="23.00" xml:space="preserve">6</text>
<text x="652.25" y="573.60" font-size="33.00" textLength="29.98" lengthAdjust="spacingAndGlyphs" xml:space="preserve">10</text>
<text x="681.87" y="561.30" font-size="23.00" xml:space="preserve">7</text>
<text x="74.87" y="540.60" font-size="23.00" xml:space="preserve">−</text>
<text x="87.84" y="538.60" font-size="23.00" xml:space="preserve">9</text>
<text x="44.65" y="551.50" font-size="33.00" textLength="29.18" lengthAdjust="spacingAndGlyphs" xml:space="preserve">10</text>
<text x="74.80" y="370.08" font-size="23.00" xml:space="preserve">−</text>
<text x="87.78" y="368.08" font-size="23.00" xml:space="preserve">8</text>
<text x="44.59" y="380.98" font-size="33.00" textLength="29.18" lengthAdjust="spacingAndGlyphs" xml:space="preserve">10</text>
<text x="74.59" y="199.57" font-size="23.00" xml:space="preserve">−</text>
<text x="87.56" y="197.57" font-size="23.00" xml:space="preserve">7</text>
<text x="44.37" y="210.47" font-size="33.00" textLength="29.18" lengthAdjust="spacingAndGlyphs" xml:space="preserve">10</text>
<text x="74.61" y="29.05" font-size="23.00" xml:space="preserve">−</text>
<text x="87.59" y="27.05" font-size="23.00" xml:space="preserve">6</text>
<text x="44.40" y="39.95" font-size="33.00" textLength="29.18" lengthAdjust="spacingAndGlyphs" xml:space="preserve">10</text>
<text x="340.63" y="615.50" font-size="28.00" font-style="italic" xml:space="preserve">E</text>
<text x="363.41" y="615.50" font-size="28.00" textLength="75.38" lengthAdjust="spacingAndGlyphs" xml:space="preserve">[GeV]</text>
<g transform="translate(26.2 432.4) rotate(-90)">
<text x="0.73" y="0.00" font-size="28.50" font-style="italic" xml:space="preserve">E</text>
<text x="17.52" y="-10.40" font-size="19.95" xml:space="preserve">2</text>
<text x="28.14" y="0.00" font-size="28.50" font-style="italic" xml:space="preserve">d</text>
<text x="42.43" y="0.00" font-size="28.50" font-style="italic" textLength="19.53" lengthAdjust="spacingAndGlyphs" xml:space="preserve">Φ</text>
<text x="74.94" y="0.00" font-size="28.50" font-style="italic" xml:space="preserve">dE</text>
<text x="115.48" y="0.00" font-size="28.50" xml:space="preserve">[</text>
<text x="124.99" y="0.00" font-size="28.50" textLength="51.32" lengthAdjust="spacingAndGlyphs" xml:space="preserve">GeV</text>
<text x="187.46" y="0.00" font-size="28.50" textLength="36.61" lengthAdjust="spacingAndGlyphs" xml:space="preserve">cm</text>
<text x="225.22" y="-10.40" font-size="19.95" xml:space="preserve">2</text>
<text x="244.63" y="0.00" font-size="28.50" xml:space="preserve">s</text>
<text x="265.83" y="0.00" font-size="28.50" xml:space="preserve">sr</text>
<text x="286.47" y="0.00" font-size="28.50" xml:space="preserve">]</text>
<path d="M64.65 4.4 L74.15 -20.6 M177.50 4.4 L187.00 -20.6 M235.60 4.4 L245.10 -20.6 M256.30 4.4 L265.80 -20.6" stroke="#000" stroke-width="1.55" fill="none"/>
</g>
<text x="132.84" y="77.00" font-size="30.00" textLength="48.34" lengthAdjust="spacingAndGlyphs" xml:space="preserve">DM</text>
<path d="M184.1 69.0 H204.2" stroke="#000" stroke-width="1.7" fill="none"/>
<path d="M198.4 63.0 C199.6 66.0 202.0 68.0 205.3 69.0 C202.0 70.0 199.8 72.0 198.9 75.0" stroke="#000" stroke-width="1.5" fill="none" stroke-linejoin="miter"/>
<text x="207.19" y="76.90" font-size="30.00" font-style="italic" xml:space="preserve">b</text>
<text x="222.39" y="76.90" font-size="30.00" font-style="italic" xml:space="preserve">b</text>
<path d="M222.6 53.2 H238.9" stroke="#000" stroke-width="1.4" fill="none"/>
<text x="133.32" y="108.70" font-size="23.80" textLength="17.94" lengthAdjust="spacingAndGlyphs" xml:space="preserve">m</text>
<text x="154.00" y="112.10" font-size="19.04" font-style="italic" textLength="9.36" lengthAdjust="spacingAndGlyphs" xml:space="preserve">χ</text>
<path d="M165.8 100.5 H179.4 M165.8 105.7 H179.4" stroke="#000" stroke-width="1.55" fill="none"/>
<text x="181.34" y="108.70" font-size="23.80" textLength="23.45" lengthAdjust="spacingAndGlyphs" xml:space="preserve">10</text>
<text x="211.67" y="108.70" font-size="23.80" textLength="50.46" lengthAdjust="spacingAndGlyphs" xml:space="preserve">PeV;</text>
<text x="269.40" y="108.70" font-size="23.80" font-style="italic" textLength="8.11" lengthAdjust="spacingAndGlyphs" xml:space="preserve">τ</text>
<path d="M280.7 100.5 H294.4 M280.7 105.7 H294.4" stroke="#000" stroke-width="1.55" fill="none"/>
<text x="297.80" y="108.70" font-size="23.80" textLength="22.77" lengthAdjust="spacingAndGlyphs" xml:space="preserve">10</text>
<text x="320.90" y="99.30" font-size="17.14" textLength="18.23" lengthAdjust="spacingAndGlyphs" xml:space="preserve">27</text>
<text x="345.84" y="108.70" font-size="23.80" textLength="9.11" lengthAdjust="spacingAndGlyphs" xml:space="preserve">s</text>
<rect x="126.2" y="130.9" width="216.3" height="111.0" rx="3.6" ry="3.6" fill="#fff" fill-opacity="0.8" stroke="#d0d0d0" stroke-width="2.7"/>
<path d="M132.9 148.85 H158.0" stroke="#ff66ff" stroke-width="3.50" fill="none"/>
<path d="M132.9 175.60 H158.0" stroke="#0064cf" stroke-width="3.50" fill="none"/>
<path d="M132.9 200.25 H158.0" stroke="#fa9a2f" stroke-width="3.50" fill="none"/>
<path d="M132.9 225.00 H158.0" stroke="#00c800" stroke-width="3.50" fill="none"/>
<text x="164.37" y="155.20" font-size="23.00" textLength="63.95" lengthAdjust="spacingAndGlyphs" xml:space="preserve">Prompt</text>
<text x="234.89" y="155.20" font-size="23.00" font-style="italic" textLength="11.19" lengthAdjust="spacingAndGlyphs" xml:space="preserve">γ</text>
<text x="164.21" y="182.30" font-size="23.00" textLength="151.83" lengthAdjust="spacingAndGlyphs" xml:space="preserve">Inverse Compton</text>
<text x="323.71" y="182.30" font-size="23.00" font-style="italic" textLength="10.59" lengthAdjust="spacingAndGlyphs" xml:space="preserve">γ</text>
<text x="164.37" y="207.90" font-size="23.00" textLength="120.61" lengthAdjust="spacingAndGlyphs" xml:space="preserve">ExtraGalactic</text>
<text x="291.58" y="207.90" font-size="23.00" font-style="italic" textLength="11.39" lengthAdjust="spacingAndGlyphs" xml:space="preserve">γ</text>
<text x="164.11" y="232.30" font-size="23.00" textLength="72.46" lengthAdjust="spacingAndGlyphs" xml:space="preserve">Galactic</text>
<text x="243.07" y="232.30" font-size="23.00" textLength="15.03" lengthAdjust="spacingAndGlyphs" xml:space="preserve">+</text>
<text x="263.88" y="232.30" font-size="23.00" textLength="28.48" lengthAdjust="spacingAndGlyphs" xml:space="preserve">EG</text>
<text x="298.18" y="232.30" font-size="24.84" font-style="italic" textLength="10.32" lengthAdjust="spacingAndGlyphs" xml:space="preserve">ν</text>
</svg>
</body></html>
